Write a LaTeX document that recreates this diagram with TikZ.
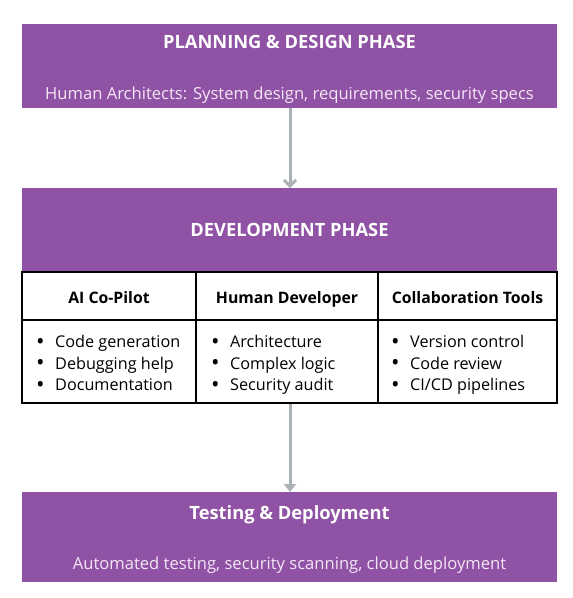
\documentclass[tikz,border=0pt]{standalone}
\usepackage{fontspec}
\setmainfont{Open Sans}
\usetikzlibrary{arrows.meta}
\definecolor{phase}{RGB}{143,82,165}
\definecolor{flow}{RGB}{168,178,181}
\definecolor{subtxt}{RGB}{245,230,245}
\tikzset{
  phasebox/.style={fill=phase, draw=none, minimum width=535pt, inner sep=0pt},
  phasetitle/.style={text=white, font=\fontsize{18.3}{20}\selectfont\bfseries, inner sep=0pt, anchor=base},
  phasesub/.style={text=subtxt, font=\fontsize{16.6}{20}\selectfont, inner sep=0pt, anchor=base},
  colhead/.style={font=\fontsize{15.8}{18}\selectfont\bfseries, inner sep=0pt, anchor=base},
  item/.style={font=\fontsize{16.2}{20}\selectfont, anchor=base west, inner sep=0pt},
  flowarrow/.style={draw=flow, line width=3pt},
  grid/.style={draw=black, line width=1.6pt}
}
\newcommand{\itm}{\makebox[19pt][l]{\raisebox{-1.8pt}{\scalebox{1.4}{\textbullet}}}}
\begin{document}
\begin{tikzpicture}[x=1pt,y=-1pt]
\useasboundingbox (0,0) rectangle (573,598);
% planning
\node[phasebox, minimum height=84pt] (plan) at (289.5,66) {};
\node[phasetitle] (plant) at (289.5,48.5) {PLANNING \& DESIGN PHASE};
\node[phasesub] (plans) at (289.5,99) {Human Architects: System design, requirements, security specs};
% development
\node[phasebox, minimum height=84pt] (dev) at (289.5,230) {};
\node[phasetitle] (devt) at (289.5,236.7) {DEVELOPMENT PHASE};
% table
\coordinate (tl) at (22,272);
\coordinate (br) at (557,403);
\node[inner sep=0pt, minimum width=535pt, minimum height=131pt] (tab) at (289.5,337.5) {};
\draw[grid] (tl) rectangle (br);
\coordinate (h1) at (22,320); \coordinate (h2) at (557,320);
\draw[grid] (h1) -- (h2);
\coordinate (c1t) at (196,272); \coordinate (c1b) at (196,403);
\coordinate (c2t) at (378,272); \coordinate (c2b) at (378,403);
\draw[grid] (c1t) -- (c1b);
\draw[grid] (c2t) -- (c2b);
\node[colhead] (hai) at (109,303) {AI Co-Pilot};
\node[colhead] (hhu) at (287,303) {Human Developer};
\node[colhead] (hco) at (467.5,303) {Collaboration Tools};
\node[item] (ai1) at (36,347.3) {\itm Code generation};
\node[item] (ai2) at (36,369) {\itm Debugging help};
\node[item] (ai3) at (36,390.7) {\itm Documentation};
\node[item] (hu1) at (211,347.3) {\itm Architecture};
\node[item] (hu2) at (211,369) {\itm Complex logic};
\node[item] (hu3) at (211,390.7) {\itm Security audit};
\node[item] (co1) at (391,347.3) {\itm Version control};
\node[item] (co2) at (391,369) {\itm Code review};
\node[item] (co3) at (391,390.7) {\itm CI/CD pipelines};
% testing
\node[phasebox, minimum height=90pt] (test) at (289.5,537) {};
\node[phasetitle] (testt) at (289.5,519) {Testing \& Deployment};
\node[phasesub] (tests) at (289.5,569.3) {Automated testing, security scanning, cloud deployment};
% arrows
\coordinate (a1) at (290,108);
\coordinate (a2) at (290,188);
\coordinate (a3) at (290,404);
\coordinate (a4) at (290,492);
\draw[flowarrow, -{Straight Barb[length=6pt,width=12pt]}] (a1) -- (a2);
\draw[flowarrow, -{Triangle[length=8pt,width=12pt]}] (a3) -- (a4);
\end{tikzpicture}
\end{document}
